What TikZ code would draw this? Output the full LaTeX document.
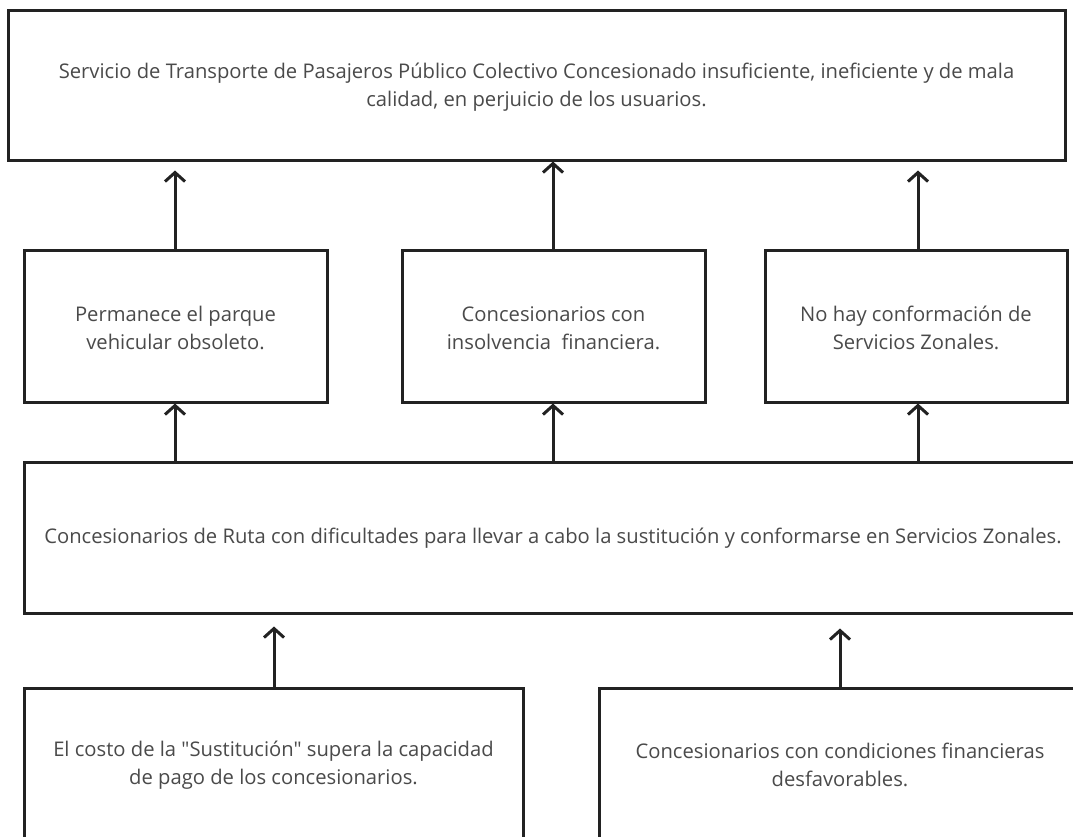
\documentclass[tikz,border=0pt]{standalone}
\usepackage{fontspec}
\setmainfont{Open Sans}[Ligatures=TeXOff]
\usetikzlibrary{arrows.meta}
\definecolor{linec}{HTML}{222222}
\definecolor{textc}{HTML}{4A4A4A}
\tikzset{
  box/.style={draw=linec, line width=3pt, fill=none, inner sep=0pt},
  txt/.style={text=textc, align=center, font=\fontsize{20.2pt}{28pt}\selectfont, inner sep=0pt},
  arr/.style={draw=linec, line width=3pt, -{Straight Barb[length=9pt,width=20pt,line width=3pt]}},
}
\begin{document}
\begin{tikzpicture}[x=1pt,y=-1pt]
\clip (0,0) rectangle (1073,836);
\fill[white] (0,0) rectangle (1073,836);
% boxes
\node[box, minimum width=1057pt, minimum height=150pt] (top) at (536.5,85) {};
\node[txt] (ttop) at (536.5,87) {Servicio de Transporte de Pasajeros Público Colectivo Concesionado insuficiente, ineficiente y de mala\\calidad, en perjuicio de los usuarios.};
\node[box, minimum width=303pt, minimum height=152pt] (m1) at (175.5,326) {};
\node[txt] (tm1) at (175.5,328) {Permanece el parque\\vehicular obsoleto.};
\node[box, minimum width=303pt, minimum height=152pt] (m2) at (553.5,326) {};
\node[txt] (tm2) at (553.5,328) {Concesionarios con\\insolvencia\ \ financiera.};
\node[box, minimum width=302pt, minimum height=152pt] (m3) at (916,326) {};
\node[txt] (tm3) at (916,328) {No hay conformación de\\Servicios Zonales.};
\node[box, minimum width=1076pt, minimum height=151pt] (w) at (562,537.5) {};
\node[txt] (tw) at (553,538) {Concesionarios de Ruta con dificultades para llevar a cabo la sustitución y conformarse en Servicios Zonales.};
\node[box, minimum width=499pt, minimum height=220pt] (b1) at (273.5,798) {};
\node[txt] (tb1) at (273.5,765) {El costo de la "Sustitución" supera la capacidad\\de pago de los concesionarios.};
\node[box, minimum width=500pt, minimum height=220pt] (b2) at (849,798) {};
\node[txt] (tb2) at (840,765) {Concesionarios con condiciones financieras\\desfavorables.};
% connectors
\draw[arr, shorten >=9pt] (m1.north -| 175,0) -- (top.south -| 175,0);
\draw[arr] (m2.north -| 553,0) -- (top.south -| 553,0);
\draw[arr, shorten >=9pt] (m3.north -| 918,0) -- (top.south -| 918,0);
\draw[arr] (w.north -| 175,0) -- (m1.south -| 175,0);
\draw[arr] (w.north -| 553,0) -- (m2.south -| 553,0);
\draw[arr] (w.north -| 918,0) -- (m3.south -| 918,0);
\draw[arr, shorten >=12pt] (b1.north -| 274,0) -- (w.south -| 274,0);
\draw[arr, shorten >=14pt] (b2.north -| 840,0) -- (w.south -| 840,0);
\end{tikzpicture}
\end{document}
